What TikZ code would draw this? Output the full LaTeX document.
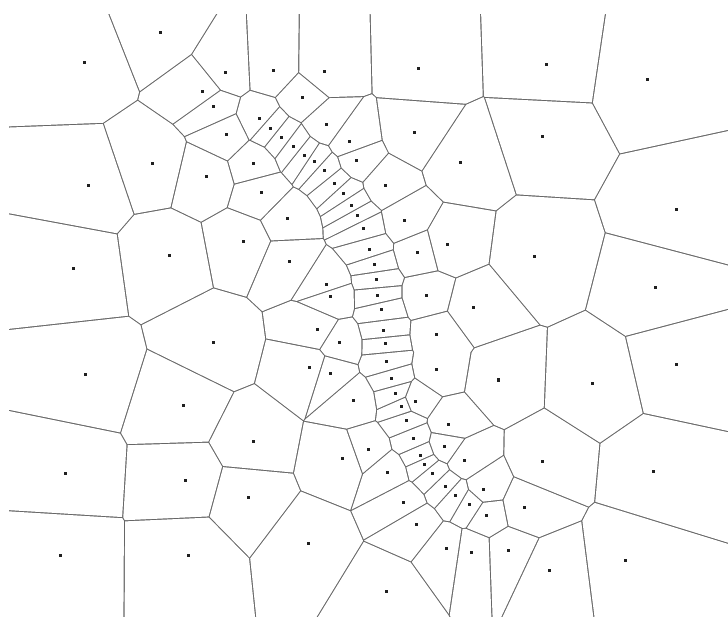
\documentclass[tikz,border=0pt]{standalone}
\usepackage{xcolor}
\usepackage{tikz}
\definecolor{edgegray}{gray}{0.4}
\definecolor{sitegray}{gray}{0.12}
\tikzset{
  site/.style={rectangle, fill=sitegray, inner sep=0pt, minimum size=3pt},
  cellfill/.style={fill=white},
  edgefill/.style={fill=edgegray},
}
% site positions (px, y down)
\newcommand{\sitelist}{
  160/32.3, 84/62.3, 225.3/73, 202.7/91.3, 213.7/106.7, 226.3/135, 152.7/164,
  206.7/176.7, 88.7/185.7,
  273/70.7, 324.3/71.3, 418.7/69, 302.3/98, 259/119, 270/128.7, 326/124.3,
  281.3/137.7, 293.3/146.7, 414/132.3, 349.5/141.2, 253.5/163.2, 304/155.2,
  314.3/162, 356.7/160.8, 460.7/163, 324.3/171, 334.8/184, 385/185.7,
  261.3/193, 343.2/193.2, 351/205.2,
  546/64.7, 647.7/79.7, 542.3/136.3, 676/210,
  243/241.3, 169/255.3, 73.3/268.7, 213.7/343, 85/374.7, 183/405.5,
  357/216, 287.7/219, 404.7/220.5, 363.3/228.7, 447/244.7, 369/249.2,
  417.5/252.3, 289.7/261.3, 374/264.5, 376.3/279.8, 326.7/284.7, 426.3/295.8,
  330.8/297, 377.8/296, 473.3/307.7, 381/310, 317/329.3, 383.7/331,
  436.3/334.7, 339/343, 385/343.8, 386.7/361.7, 309.5/367.3, 436.3/369.7,
  330.8/374, 391.7/379, 395.7/393.6, 353.5/400.7, 415.1/401, 401.4/406.6,
  534.7/256.3, 655.7/287.3, 676/364.3, 498.3/380, 592.3/383.7,
  65/473, 185.3/480.3, 248/497.3, 60/555, 188.7/555.7,
  253.3/441, 406.1/420.8, 448.3/424, 368/449.3, 342.7/458.3, 413.3/438.7,
  444.5/446.2, 420.3/455, 464.6/460.3, 424.3/464, 387.8/472.9, 432.3/473.7,
  483.4/489, 445/486.8, 455/495.8, 403/502.2, 469.7/504.3, 486.4/515.1,
  416/524.5, 308.7/543.3, 446.3/548.3, 471.3/552, 386.7/591,
  542.7/461.7, 653/471.7, 524/507.7, 508/550.7, 549/570, 625.7/560.3}
\newcommand{\cellgap}{0.6}
\newcommand{\cellreach}{6.25}
\newcommand{\halfsize}{1500}

\begin{document}
\begin{tikzpicture}[x=1pt, y=-1pt]
  \useasboundingbox (0,0) rectangle (728,617);

  % edges show through between the cells
  \fill[edgefill] (9,14) rectangle (728,617);

  % cells
  \foreach \xa/\ya in \sitelist {
    \begin{scope}
      \foreach \xb/\yb in \sitelist {
        \pgfmathsetmacro\vdx{(\xb-\xa)/100}
        \pgfmathsetmacro\vdy{(\yb-\ya)/100}
        \pgfmathsetmacro\vsq{\vdx*\vdx+\vdy*\vdy}
        \ifdim\vsq pt>0.00001pt \ifdim\vsq pt<\cellreach pt
          \pgfmathsetmacro\vlen{100*sqrt(\vsq)}
          \pgfmathsetmacro\ux{(\xb-\xa)/\vlen}
          \pgfmathsetmacro\uy{(\yb-\ya)/\vlen}
          \pgfmathsetmacro\mx{(\xa+\xb)/2-\cellgap*(\ux)}
          \pgfmathsetmacro\my{(\ya+\yb)/2-\cellgap*(\uy)}
          \clip ({\mx+\halfsize*(\uy)},{\my-\halfsize*(\ux)})
             -- ({\mx-\halfsize*(\uy)},{\my+\halfsize*(\ux)})
             -- ({\mx-\halfsize*(\uy)-\halfsize*(\ux)},{\my+\halfsize*(\ux)-\halfsize*(\uy)})
             -- ({\mx+\halfsize*(\uy)-\halfsize*(\ux)},{\my-\halfsize*(\ux)-\halfsize*(\uy)})
             -- cycle;
        \fi\fi
      }
      \fill[cellfill] (0,0) rectangle (728,617);
    \end{scope}
  }

  % sites
  \foreach \x/\y [count=\n] in \sitelist
    \node[site] (s\n) at (\x,\y) {};

\end{tikzpicture}
\end{document}
